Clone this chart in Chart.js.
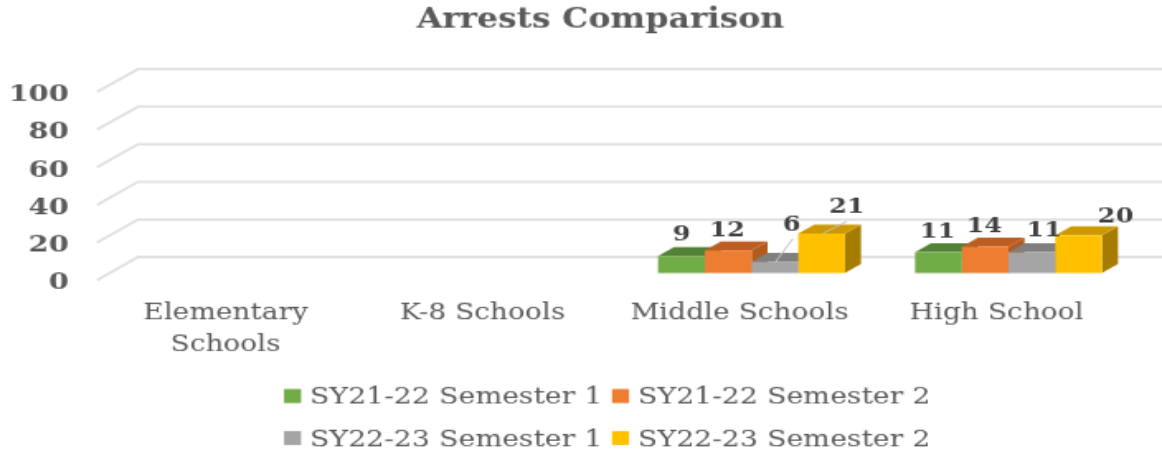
<!DOCTYPE html>
<html>
<head>
<meta charset="utf-8">
<style>
html,body{margin:0;padding:0;background:#fff;overflow:hidden;width:1162px;height:456px}
#c{position:absolute;left:0;top:0;transform-origin:0 0}
</style>
<script src="https://cdn.jsdelivr.net/npm/chart.js@4"></script>
</head>
<body>
<canvas id="c" width="704" height="330"></canvas>
<script>
const categories = [["Elementary","Schools"], "K-8 Schools", "Middle Schools", "High School"];
const sy2122s1 = [null, null, 9, 11];
const sy2122s2 = [null, null, 12, 14];
const sy2223s1 = [null, null, 6, 11];
const sy2223s2 = [null, null, 21, 20];
const seriesNames = ["SY21-22 Semester 1","SY21-22 Semester 2","SY22-23 Semester 1","SY22-23 Semester 2"];
const yTicks = [0,20,40,60,80,100];

const W=704,H=330,SX=1162/W,SY=456/H;
const cv=document.getElementById('c');
cv.style.transform='scale('+SX+','+SY+')';
const px=v=>v/SX, py=v=>v/SY;
const FONT='"DejaVu Serif"', TXT='#595959';
const colors=[
 {front:'#70ad47',top:'#538135',side:'#43682b'},
 {front:'#ed7d31',top:'#bd5d22',side:'#b35a1f'},
 {front:'#a5a5a5',top:'#7f7f7f',side:'#737373'},
 {front:'#ffc000',top:'#cc9a00',side:'#a67c00'}];
const barShift={x:px(12),y:py(-7)}, depth={x:px(16),y:py(-9)}, wall={x:px(41),y:py(-23)};
// label offset from the front-top centre of a bar, screen px: [series][category]
const nudges=[[0,0,[0,-21],[-1,-20]],[0,0,[-1,-20],[-1,-20]],[0,0,[17,-37],[12,-21]],[0,0,[25,-26],[37,-18]]];
const leaders={ '2,2':[[18,-23],[0,1]], '3,2':[[25,-12],[1,0]] };

const threeD={
 id:'threeD',
 afterLayout(chart){
  const t=chart.titleBlock;
  t.left+=px(38);t.right+=px(38);
 },
 beforeDatasetsDraw(chart){
  const {ctx,scales:{x,y}}=chart;
  ctx.save();
  ctx.strokeStyle='#e0e0e0';ctx.lineWidth=1.8;
  yTicks.forEach(t=>{
    const p=y.getPixelForValue(t);
    ctx.beginPath();
    ctx.moveTo(x.left,p);
    ctx.lineTo(x.left+wall.x,p+wall.y);
    ctx.lineTo(x.right+wall.x,p+wall.y);
    ctx.stroke();
  });
  ctx.restore();
  ctx.save();
  ctx.translate(barShift.x,barShift.y);
  chart.data.datasets.forEach((ds,i)=>{
    const meta=chart.getDatasetMeta(i);
    meta.data.forEach((b,j)=>{
      if(ds.data[j]==null) return;
      const l=b.x-b.width/2,r=b.x+b.width/2,t=b.y,bt=b.base;
      ctx.fillStyle=colors[i].side;
      ctx.beginPath();ctx.moveTo(r,t);ctx.lineTo(r+depth.x,t+depth.y);ctx.lineTo(r+depth.x,bt+depth.y);ctx.lineTo(r,bt);ctx.closePath();ctx.fill();
      ctx.fillStyle=colors[i].top;
      ctx.beginPath();ctx.moveTo(l,t);ctx.lineTo(l+depth.x,t+depth.y);ctx.lineTo(r+depth.x,t+depth.y);ctx.lineTo(r,t);ctx.closePath();ctx.fill();
    });
  });
 },
 afterDatasetsDraw(chart){
  const {ctx}=chart;
  ctx.restore();
  ctx.save();
  ctx.textAlign='center';ctx.textBaseline='middle';
  chart.data.datasets.forEach((ds,i)=>{
    const meta=chart.getDatasetMeta(i);
    meta.data.forEach((b,j)=>{
      if(ds.data[j]==null) return;
      const cx=b.x+barShift.x, cy=b.y+barShift.y, n=nudges[i][j];
      const lead=leaders[i+','+j];
      if(lead){
        ctx.strokeStyle='#bfbfbf';ctx.lineWidth=1;
        ctx.beginPath();
        ctx.moveTo(cx+px(lead[0][0]),cy+py(lead[0][1]));
        ctx.lineTo(cx+px(lead[1][0]),cy+py(lead[1][1]));
        ctx.stroke();
      }
      ctx.fillStyle='#404040';
      ctx.font='bold 15.5px '+FONT;
      ctx.fillText(String(ds.data[j]),cx+px(n[0]),cy+py(n[1]));
    });
  });
  // two-row legend
  ctx.textAlign='left';
  ctx.font='17.2px '+FONT;
  const cols=[284,612], rows=[396,438];
  chart.data.datasets.forEach((ds,i)=>{
    const cxp=cols[i%2], ryp=rows[Math.floor(i/2)];
    ctx.fillStyle=colors[i].front;
    ctx.fillRect(px(cxp),py(ryp-7),px(17),py(14));
    ctx.fillStyle=TXT;
    ctx.fillText(ds.label,px(cxp+26),py(ryp+2));
  });
  ctx.restore();
 }
};

const dataArrays=[sy2122s1,sy2122s2,sy2223s1,sy2223s2];
new Chart(cv,{
 type:'bar',
 data:{labels:categories,datasets:dataArrays.map((d,i)=>({
   label:seriesNames[i],data:d,backgroundColor:colors[i].front,borderWidth:0,
   categoryPercentage:0.7276,barPercentage:1,clip:false}))},
 plugins:[threeD],
 options:{
  responsive:false,animation:false,devicePixelRatio:1,
  layout:{autoPadding:false,padding:{left:0,right:W-px(1125),top:0,bottom:0}},
  plugins:{
   legend:{display:false},tooltip:{enabled:false},
   title:{display:true,text:'Arrests Comparison',color:TXT,font:{family:FONT,size:20,weight:'bold',lineHeight:1.2},
     padding:{top:3,bottom:py(92)-3-24}}
  },
  scales:{
   x:{grid:{display:false},border:{display:false},
     ticks:{color:TXT,font:{family:FONT,size:17,lineHeight:1.32},maxRotation:0,autoSkip:false,padding:py(7)},
     afterFit(s){s.height=H-py(280);}},
   y:{min:0,max:100,grid:{display:false},border:{display:false},
     afterBuildTicks(s){s.ticks=yTicks.map(v=>({value:v}));},
     ticks:{color:TXT,font:{family:FONT,size:17.5,weight:'bold'},padding:px(15),labelOffset:2},
     afterFit(s){s.width=px(97);}}
  }
 }
});
</script>
</body>
</html>
